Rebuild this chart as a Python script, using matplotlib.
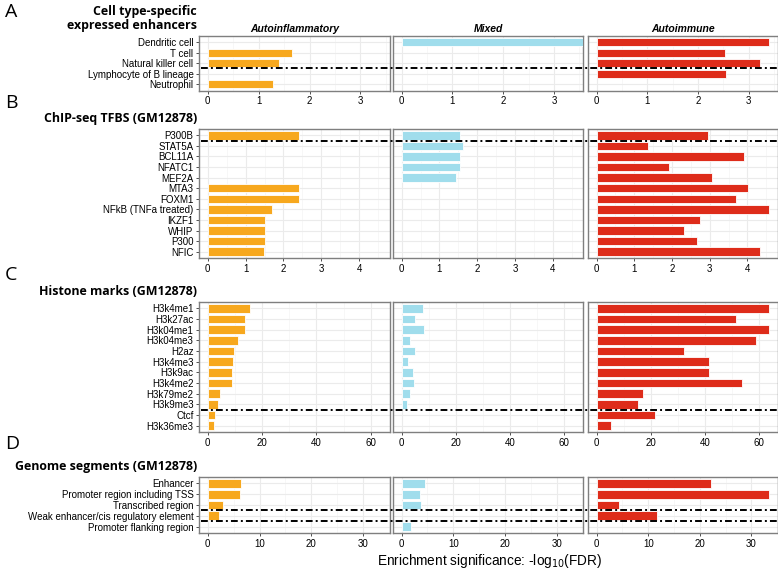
import numpy as np
import matplotlib.pyplot as plt
from matplotlib.lines import Line2D
from matplotlib.transforms import blended_transform_factory

nan = np.nan

groups = ['Autoinflammatory', 'Mixed', 'Autoimmune']
group_colors = ['#F7A81E', '#A0DDEC', '#DE2C1A']

# A - cell type-specific expressed enhancers
cell_types = ['Dendritic cell', 'T cell', 'Natural killer cell',
              'Lymphocyte of B lineage', 'Neutrophil']
cell_autoinfl = [nan, 1.66, 1.41, nan, 1.29]
cell_mixed = [3.6, nan, nan, nan, nan]
cell_autoimm = [3.40, 2.54, 3.23, 2.56, nan]

# B - ChIP-seq TFBS
tfbs = ['P300B', 'STAT5A', 'BCL11A', 'NFATC1', 'MEF2A', 'MTA3', 'FOXM1',
        'NFkB (TNFa treated)', 'IKZF1', 'WHIP', 'P300', 'NFIC']
tfbs_autoinfl = [2.41, nan, nan, nan, nan, 2.41, 2.41, 1.70, 1.50, 1.50, 1.50, 1.48]
tfbs_mixed = [1.55, 1.63, 1.55, 1.55, 1.43, nan, nan, nan, nan, nan, nan, nan]
tfbs_autoimm = [2.95, 1.37, 3.91, 1.93, 3.07, 4.02, 3.69, 4.57, 2.73, 2.32, 2.66, 4.33]

# C - histone marks
histone = ['H3k4me1', 'H3k27ac', 'H3k04me1', 'H3k04me3', 'H2az', 'H3k4me3',
           'H3k9ac', 'H3k4me2', 'H3k79me2', 'H3k9me3', 'Ctcf', 'H3k36me3']
hist_autoinfl = [15.4, 13.8, 13.8, 11.1, 9.8, 9.2, 9.0, 8.9, 4.7, 3.7, 2.7, 2.5]
hist_mixed = [7.7, 5.0, 8.2, 3.2, 5.0, 2.5, 4.1, 4.5, 3.2, 1.9, nan, nan]
hist_autoimm = [63.7, 51.4, 63.7, 58.8, 32.3, 41.7, 41.6, 53.8, 17.0, 15.3, 21.5, 5.2]

# D - genome segments
segments = ['Enhancer', 'Promoter region including TSS', 'Transcribed region',
            'Weak enhancer/cis regulatory element', 'Promoter flanking region']
seg_autoinfl = [6.4, 6.2, 2.9, 2.1, nan]
seg_mixed = [4.5, 3.5, 3.8, nan, 1.75]
seg_autoimm = [22.1, 33.4, 4.4, 11.7, nan]

panels = [
    ('A', 'Cell type-specific\nexpressed enhancers', cell_types,
     [cell_autoinfl, cell_mixed, cell_autoimm], [2.5], 3.4, 1),
    ('B', 'ChIP-seq TFBS (GM12878)', tfbs,
     [tfbs_autoinfl, tfbs_mixed, tfbs_autoimm], [0.5], 4.57, 1),
    ('C', 'Histone marks (GM12878)', histone,
     [hist_autoinfl, hist_mixed, hist_autoimm], [9.5], 63.7, 20),
    ('D', 'Genome segments (GM12878)', segments,
     [seg_autoinfl, seg_mixed, seg_autoimm], [2.5, 3.5], 33.4, 10),
]

W, H = 778, 572
rows_px = [(36, 90.5), (129, 258), (302, 432), (477, 533)]
cols_px = [(199, 389.5), (393, 583), (588, 777.5)]
letters_y = [12, 103, 275, 444]

fig = plt.figure(figsize=(W / 100, H / 100), dpi=100)
tick_font = 'Liberation Sans'

for r, (letter, title, cats, series, cuts, vmax, step) in enumerate(panels):
    top, bot = rows_px[r]
    n = len(cats)
    pos = np.arange(n)
    for c, (x0, x1) in enumerate(cols_px):
        ax = fig.add_axes([x0 / W, 1 - bot / H, (x1 - x0) / W, (bot - top) / H])
        vals = np.array(series[c], dtype=float)
        ok = ~np.isnan(vals)
        ax.barh(pos[ok], vals[ok], height=0.8, color=group_colors[c],
                edgecolor='white', linewidth=0.6, zorder=3)
        ax.set_xlim(-0.05 * vmax, 1.05 * vmax)
        ax.set_ylim(n - 0.4, -0.6)
        ticks = np.arange(0, 1.05 * vmax, step)
        ax.set_xticks(ticks)
        ax.set_xticks(np.arange(step / 2, 1.05 * vmax, step), minor=True)
        ax.set_xticklabels([f'{t:g}' for t in ticks], fontsize=7, family=tick_font)
        ax.set_yticks(pos)
        ax.grid(True, which='major', color='#EBEBEB', linewidth=0.8, zorder=0)
        ax.grid(True, which='minor', axis='x', color='#F4F4F4', linewidth=0.5, zorder=0)
        ax.set_axisbelow(True)
        for s in ax.spines.values():
            s.set_color('#7F7F7F')
            s.set_linewidth(1.0)
        ax.tick_params(axis='x', which='major', length=2.5, width=0.6,
                       color='#333333', pad=1.5, labelcolor='black')
        ax.tick_params(axis='x', which='minor', length=0)
        if c == 0:
            ax.set_yticklabels(cats, fontsize=7, family=tick_font)
            ax.tick_params(axis='y', length=2.5, width=0.6, color='#333333', pad=1.5)
            ref_ax = ax
        else:
            ax.set_yticklabels([])
            ax.tick_params(axis='y', length=0)
        if r == 0:
            ax.set_title(groups[c], fontsize=7.5, family=tick_font,
                         fontweight='bold', fontstyle='italic', pad=3)
    # dash-dot separators across all three columns
    tr = blended_transform_factory(fig.transFigure, ref_ax.transData)
    for y in cuts:
        fig.add_artist(Line2D([201 / W, 1.0], [y, y], transform=tr,
                              color='black', linewidth=1.4,
                              linestyle=(0, (3.5, 1.6, 1.0, 1.6)), zorder=10))
    # panel letter and section title
    fig.text(5 / W, 1 - letters_y[r] / H, letter, fontsize=14, family='Open Sans',
             va='center', ha='left')
    fig.text(197 / W, 1 - (top - 4) / H, title, fontsize=8.9, family='Open Sans',
             fontweight='bold', ha='right', va='bottom', linespacing=1.05)

fig.text(490 / W, 1 - 561 / H, 'Enrichment significance: -log$_{10}$(FDR)',
         fontsize=9.8, family=tick_font, ha='center', va='center')

fig.savefig('out.png', dpi=100)
